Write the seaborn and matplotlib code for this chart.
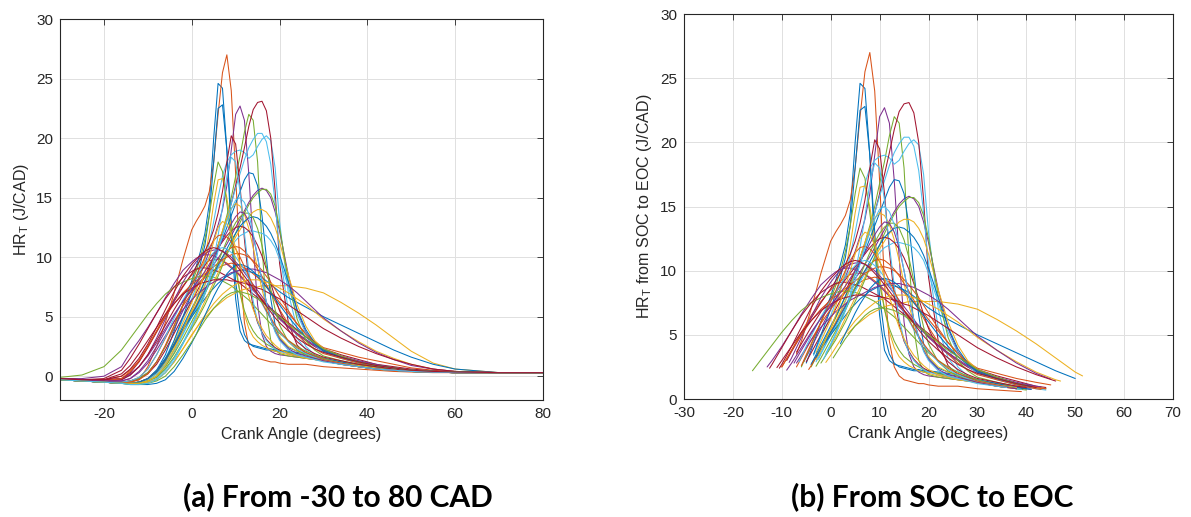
import matplotlib
matplotlib.use('Agg')
import matplotlib.pyplot as plt
import pandas as pd
import seaborn as sns

# common crank-angle grid (degrees)
crank_angle = [-30, -25, -20, -16, -14, -12, -10, -8, -6, -4, -2,
               0, 1, 2, 3, 4, 5, 6, 7, 8, 9, 10, 11, 12, 13, 14, 15, 16, 17, 18, 19, 20,
               22, 24, 26, 28, 30, 34, 38, 42, 46, 50, 55, 60, 70, 80]

# heat-release-rate curves (J/CAD), one per cycle
hr_00 = [-0.3,-0.4,-0.5,-0.6,-0.6,-0.5,-0.2,0.5,1.8,3.8,6.0,
         8.0,9.2,10.5,12.0,14.5,20.0,24.6,24.2,19.0,12.0,6.5,3.8,3.0,2.7,2.6,2.5,2.4,2.3,2.3,2.2,2.2,
         2.1,2.0,1.9,1.7,1.5,1.2,0.9,0.7,0.5,0.4,0.35,0.3,0.3,0.3]
hr_01 = [-0.2,-0.3,-0.4,-0.5,-0.5,-0.3,0.8,2.5,4.5,7.0,9.8,
         12.3,13.0,13.6,14.3,15.5,18.0,22.0,25.5,27.0,24.0,17.0,9.0,4.5,2.5,1.8,1.5,1.4,1.3,1.2,1.2,1.1,
         1.0,1.0,1.0,0.9,0.8,0.7,0.6,0.5,0.4,0.35,0.3,0.3,0.3,0.3]
hr_02 = [-0.3,-0.4,-0.5,-0.6,-0.6,-0.6,-0.5,-0.3,0.3,1.2,2.3,
         3.5,4.0,4.5,4.9,5.3,5.7,6.0,6.3,6.6,6.8,7.0,7.2,7.3,7.4,7.5,7.5,7.6,7.6,7.6,7.6,7.6,
         7.6,7.5,7.4,7.2,7.0,6.2,5.3,4.3,3.2,2.1,1.1,0.6,0.3,0.3]
hr_03 = [-0.2,-0.3,-0.4,-0.5,-0.4,-0.2,0.3,1.2,2.5,4.0,5.5,
         7.0,7.8,8.6,9.5,10.5,11.5,12.7,14.0,16.0,19.0,22.0,22.7,21.5,17.0,11.0,6.0,3.5,2.5,2.1,1.9,1.8,
         1.7,1.6,1.5,1.4,1.3,1.1,0.9,0.7,0.5,0.4,0.35,0.3,0.3,0.3]
hr_04 = [-0.3,-0.4,-0.5,-0.6,-0.6,-0.5,-0.3,0.2,1.2,2.5,4.0,
         5.5,6.3,7.1,8.0,9.0,10.0,11.0,12.2,13.5,15.0,16.8,18.5,20.5,22.0,21.5,18.0,11.0,5.5,3.0,2.2,1.9,
         1.7,1.6,1.5,1.4,1.3,1.1,0.9,0.7,0.5,0.4,0.35,0.3,0.3,0.3]
hr_05 = [-0.3,-0.4,-0.5,-0.6,-0.6,-0.5,-0.2,0.5,1.5,3.0,4.8,
         6.5,7.5,8.5,9.8,11.2,13.0,15.0,16.8,18.0,18.6,18.9,19.0,18.8,18.3,18.6,19.3,19.9,20.2,19.8,17.5,13.0,
         7.0,4.0,2.5,1.8,1.4,1.1,0.8,0.6,0.5,0.4,0.35,0.3,0.3,0.3]
hr_06 = [-0.3,-0.4,-0.5,-0.5,-0.4,-0.2,0.2,1.0,2.2,3.6,5.0,
         6.3,7.0,7.7,8.4,9.2,10.0,11.0,12.0,13.2,14.5,16.0,17.5,19.2,21.0,22.4,23.0,23.1,22.3,20.0,15.5,9.5,
         4.5,2.6,1.9,1.6,1.4,1.2,1.0,0.8,0.6,0.45,0.35,0.3,0.3,0.3]
hr_07 = [-0.3,-0.4,-0.5,-0.6,-0.6,-0.5,-0.3,0.3,1.3,3.0,5.0,
         7.0,8.2,9.5,11.0,13.5,18.0,22.5,22.8,19.0,13.0,8.0,5.0,3.5,2.8,2.5,2.4,2.3,2.2,2.2,2.1,2.1,
         2.0,1.9,1.8,1.6,1.4,1.1,0.9,0.7,0.5,0.4,0.35,0.3,0.3,0.3]
hr_08 = [-0.2,-0.3,-0.3,0.0,0.5,1.3,2.5,3.8,5.2,6.5,7.6,
         8.5,8.9,9.2,9.5,9.7,9.8,9.8,9.7,9.5,9.2,8.9,8.5,8.1,7.7,7.3,6.9,6.5,6.1,5.7,5.3,4.9,
         4.2,3.6,3.0,2.5,2.1,1.6,1.2,0.9,0.7,0.5,0.4,0.35,0.3,0.3]
hr_09 = [-0.3,-0.4,-0.5,-0.6,-0.6,-0.5,-0.3,0.2,1.2,2.8,4.5,
         6.2,7.2,8.5,10.0,12.0,14.5,16.5,16.6,15.0,12.5,9.5,7.0,5.2,4.0,3.3,2.9,2.6,2.4,2.2,2.1,2.0,
         1.8,1.7,1.6,1.5,1.3,1.0,0.8,0.6,0.5,0.4,0.35,0.3,0.3,0.3]
hr_10 = [-0.2,-0.3,-0.3,-0.2,0.2,0.8,1.7,2.8,4.0,5.2,6.3,
         7.2,7.6,8.0,8.4,8.9,9.4,9.9,10.5,11.1,11.8,12.5,13.2,13.9,14.6,15.2,15.6,15.8,15.6,15.0,13.8,12.2,
         8.5,5.5,3.7,2.7,2.1,1.6,1.2,0.9,0.7,0.5,0.4,0.35,0.3,0.3]
hr_11 = [-0.3,-0.4,-0.5,-0.5,-0.4,-0.2,0.3,1.2,2.5,4.2,6.0,
         7.8,8.8,10.0,11.5,13.5,16.0,18.0,17.2,14.5,11.5,9.0,7.0,5.5,4.5,3.8,3.3,3.0,2.7,2.5,2.3,2.2,
         2.0,1.8,1.6,1.5,1.3,1.0,0.8,0.6,0.5,0.4,0.35,0.3,0.3,0.3]
hr_12 = [-0.3,-0.4,-0.5,-0.6,-0.6,-0.6,-0.4,0.0,0.8,2.0,3.5,
         5.0,5.8,6.7,7.6,8.6,9.7,10.8,12.0,13.2,14.5,15.8,17.0,18.2,19.2,19.9,20.4,20.4,19.7,17.8,14.5,10.5,
         5.5,3.2,2.2,1.7,1.4,1.1,0.8,0.6,0.5,0.4,0.35,0.3,0.3,0.3]
hr_13 = [-0.2,-0.3,-0.3,-0.2,0.3,1.2,2.4,3.7,5.0,6.3,7.5,
         8.6,9.2,9.8,10.5,11.3,12.3,13.7,15.5,18.0,20.2,19.5,16.0,11.5,8.0,5.8,4.5,3.7,3.1,2.7,2.4,2.2,
         1.9,1.7,1.6,1.5,1.4,1.1,0.9,0.7,0.5,0.4,0.35,0.3,0.3,0.3]
hr_14 = [-0.3,-0.4,-0.5,-0.6,-0.6,-0.5,-0.3,0.3,1.3,2.7,4.2,
         5.7,6.4,7.2,8.0,8.8,9.7,10.6,11.5,12.5,13.5,14.5,15.5,16.5,17.1,17.0,16.0,13.5,10.0,6.5,4.3,3.2,
         2.4,2.1,1.9,1.7,1.5,1.2,0.9,0.7,0.5,0.4,0.35,0.3,0.3,0.3]
hr_15 = [-0.3,-0.4,-0.5,-0.5,-0.4,-0.1,0.6,1.8,3.2,4.6,5.9,
         7.0,7.5,7.9,8.3,8.6,8.9,9.1,9.3,9.4,9.5,9.4,9.3,9.1,8.9,8.6,8.3,7.9,7.5,7.1,6.7,6.2,
         5.3,4.4,3.6,2.9,2.4,2.0,1.6,1.3,1.0,0.7,0.5,0.4,0.3,0.3]
hr_16 = [-0.3,-0.4,-0.5,-0.6,-0.6,-0.5,-0.3,0.2,1.0,2.3,3.8,
         5.3,6.0,6.8,7.7,8.7,9.8,11.0,12.2,13.3,14.1,14.5,14.3,13.6,12.4,10.8,9.0,7.3,5.9,4.8,3.9,3.3,
         2.5,2.1,1.8,1.6,1.4,1.1,0.9,0.7,0.5,0.4,0.35,0.3,0.3,0.3]
hr_17 = [-0.2,-0.2,0.0,0.8,2.0,3.0,4.1,5.3,6.6,7.8,8.9,
         9.6,9.9,10.1,10.2,10.2,10.1,9.9,9.7,9.4,9.1,8.8,8.4,8.0,7.6,7.2,6.8,6.4,6.0,5.6,5.2,4.8,
         4.1,3.5,3.0,2.5,2.1,1.6,1.2,0.9,0.7,0.5,0.4,0.35,0.3,0.3]
hr_18 = [-0.1,0.1,0.8,2.2,3.2,4.2,5.2,6.1,6.9,7.5,7.9,
         8.2,8.3,8.4,8.4,8.4,8.3,8.2,8.0,7.8,7.6,7.3,7.0,6.7,6.4,6.0,5.6,5.2,4.8,4.4,4.0,3.6,
         3.0,2.5,2.1,1.8,1.5,1.1,0.8,0.6,0.5,0.4,0.35,0.3,0.3,0.3]
hr_19 = [-0.3,-0.4,-0.5,-0.6,-0.6,-0.5,-0.3,0.2,1.0,2.2,3.6,
         5.0,5.6,6.3,7.0,7.7,8.4,9.1,9.8,10.4,10.9,11.4,11.8,12.0,12.2,12.2,12.1,12.0,11.8,11.4,10.8,9.8,
         7.5,5.2,3.6,2.6,2.0,1.5,1.1,0.8,0.6,0.45,0.35,0.3,0.3,0.3]
hr_20 = [-0.2,-0.3,-0.2,0.5,1.5,2.7,4.0,5.3,6.5,7.5,8.3,
         8.8,9.0,9.1,9.1,9.0,8.9,8.8,8.6,8.4,8.2,8.0,7.8,7.5,7.2,6.9,6.6,6.3,6.0,5.7,5.4,5.1,
         4.5,3.9,3.3,2.8,2.3,1.8,1.4,1.0,0.8,0.6,0.45,0.35,0.3,0.3]
hr_21 = [-0.3,-0.4,-0.5,-0.6,-0.6,-0.5,-0.2,0.5,1.5,2.7,3.9,
         5.0,5.5,6.0,6.5,7.0,7.4,7.8,8.1,8.4,8.6,8.8,8.9,8.9,8.8,8.7,8.5,8.3,8.0,7.7,7.4,7.1,
         6.6,6.2,5.8,5.4,5.0,4.3,3.6,2.9,2.2,1.6,1.0,0.6,0.3,0.3]
hr_22 = [-0.3,-0.4,-0.5,-0.6,-0.6,-0.5,-0.2,0.4,1.4,2.6,3.9,
         5.2,5.9,6.6,7.3,8.0,8.7,9.4,10.0,10.5,10.8,10.9,10.8,10.5,10.1,9.6,9.0,8.4,7.7,7.0,6.3,5.6,
         4.4,3.5,2.8,2.3,1.9,1.5,1.1,0.8,0.6,0.45,0.35,0.3,0.3,0.3]
hr_23 = [-0.3,-0.4,-0.5,-0.6,-0.6,-0.6,-0.4,-0.1,0.6,1.6,2.8,
         4.1,4.8,5.5,6.3,7.1,7.9,8.7,9.5,10.3,11.0,11.7,12.3,12.9,13.4,13.8,14.0,14.0,13.8,13.3,12.5,11.3,
         8.5,6.0,4.2,3.0,2.3,1.7,1.2,0.9,0.7,0.5,0.4,0.35,0.3,0.3]
hr_24 = [-0.2,-0.3,-0.4,-0.3,0.1,0.8,1.8,3.2,4.8,6.4,7.9,
         9.1,9.6,10.0,10.3,10.5,10.6,10.6,10.5,10.3,10.0,9.6,9.2,8.7,8.2,7.7,7.2,6.7,6.2,5.7,5.3,4.9,
         4.2,3.6,3.1,2.6,2.2,1.7,1.3,1.0,0.7,0.5,0.4,0.35,0.3,0.3]
hr_25 = [-0.3,-0.4,-0.5,-0.6,-0.6,-0.6,-0.4,-0.1,0.6,1.6,2.8,
         4.0,4.6,5.3,6.0,6.8,7.6,8.4,9.3,10.2,11.1,12.0,12.9,13.7,14.4,15.0,15.4,15.7,15.7,15.3,14.3,12.5,
         8.0,4.8,3.0,2.2,1.7,1.3,1.0,0.8,0.6,0.45,0.35,0.3,0.3,0.3]
hr_26 = [-0.3,-0.4,-0.5,-0.6,-0.6,-0.6,-0.5,-0.2,0.5,1.5,2.8,
         4.3,5.1,6.0,7.0,8.2,9.8,11.8,14.2,16.8,18.4,18.0,15.5,12.0,8.8,6.3,4.6,3.6,3.0,2.6,2.3,2.1,
         1.9,1.7,1.6,1.5,1.3,1.0,0.8,0.6,0.5,0.4,0.35,0.3,0.3,0.3]
hr_27 = [-0.3,-0.4,-0.4,-0.3,0.1,0.8,1.8,3.0,4.3,5.6,6.8,
         7.8,8.3,8.8,9.3,9.8,10.3,10.8,11.3,11.8,12.2,12.5,12.6,12.5,12.2,11.7,11.0,10.1,9.0,7.8,6.6,5.5,
         3.9,2.9,2.3,1.9,1.6,1.3,1.0,0.8,0.6,0.45,0.35,0.3,0.3,0.3]
hr_28 = [-0.3,-0.4,-0.5,-0.6,-0.6,-0.5,-0.2,0.4,1.4,2.6,3.9,
         5.2,5.8,6.5,7.2,7.9,8.6,9.3,10.0,10.7,11.4,12.0,12.6,13.0,13.3,13.4,13.3,13.0,12.6,12.0,11.2,10.2,
         7.9,5.6,3.9,2.8,2.1,1.6,1.2,0.9,0.7,0.5,0.4,0.35,0.3,0.3]
hr_29 = [-0.2,-0.3,-0.4,-0.2,0.4,1.3,2.5,3.8,5.0,6.1,7.0,
         7.7,8.0,8.3,8.6,8.9,9.2,9.5,9.8,10.0,10.2,10.3,10.3,10.2,10.0,9.7,9.3,8.9,8.4,7.9,7.3,6.7,
         5.5,4.4,3.5,2.8,2.2,1.6,1.2,0.9,0.7,0.5,0.4,0.35,0.3,0.3]
hr_30 = [-0.3,-0.4,-0.5,-0.6,-0.6,-0.6,-0.5,-0.3,0.3,1.2,2.3,
         3.4,4.0,4.6,5.1,5.6,6.1,6.5,6.9,7.2,7.5,7.7,7.9,8.0,8.1,8.1,8.1,8.0,7.9,7.8,7.6,7.4,
         7.0,6.5,6.0,5.4,4.8,3.8,2.9,2.1,1.5,1.0,0.6,0.4,0.3,0.3]
hr_31 = [-0.2,-0.3,-0.4,-0.4,-0.2,0.3,1.1,2.2,3.4,4.6,5.6,
         6.4,6.8,7.1,7.4,7.7,7.9,8.1,8.3,8.5,8.7,8.8,8.9,9.0,9.0,9.0,8.9,8.8,8.7,8.5,8.3,8.1,
         7.6,7.0,6.3,5.6,4.9,3.8,2.8,2.0,1.4,0.9,0.6,0.4,0.3,0.3]
hr_32 = [-0.3,-0.4,-0.5,-0.6,-0.6,-0.6,-0.4,0.0,0.8,1.9,3.2,
         4.6,5.3,6.1,6.9,7.8,8.7,9.6,10.5,11.4,12.2,12.9,13.4,13.7,13.7,13.3,12.4,11.0,9.2,7.3,5.6,4.3,
         2.9,2.2,1.8,1.5,1.3,1.0,0.8,0.6,0.5,0.4,0.35,0.3,0.3,0.3]
hr_33 = [-0.3,-0.4,-0.5,-0.5,-0.4,-0.1,0.6,1.8,3.3,4.9,6.4,
         7.7,8.3,8.9,9.5,10.0,10.4,10.7,10.8,10.7,10.4,10.0,9.5,8.9,8.2,7.5,6.8,6.1,5.4,4.8,4.2,3.7,
         2.9,2.3,1.9,1.6,1.4,1.1,0.8,0.6,0.5,0.4,0.35,0.3,0.3,0.3]
hr_34 = [-0.2,-0.3,-0.3,0.2,0.9,1.9,3.0,4.1,5.2,6.1,6.9,
         7.4,7.6,7.8,7.9,8.0,8.1,8.1,8.1,8.1,8.0,8.0,7.9,7.8,7.7,7.6,7.4,7.3,7.1,6.9,6.7,6.5,
         6.0,5.5,5.0,4.5,4.0,3.2,2.5,1.9,1.4,1.0,0.6,0.4,0.3,0.3]
hr_35 = [-0.3,-0.4,-0.5,-0.6,-0.7,-0.7,-0.7,-0.6,-0.3,0.4,1.5,
         2.8,3.5,4.3,5.1,5.9,6.7,7.4,8.0,8.6,9.0,9.3,9.4,9.3,9.1,8.8,8.4,8.0,7.5,7.0,6.5,6.0,
         5.0,4.1,3.3,2.7,2.2,1.6,1.2,0.9,0.7,0.5,0.4,0.35,0.3,0.3]
hr_36 = [-0.3,-0.4,-0.5,-0.6,-0.5,-0.3,0.2,1.2,2.6,4.3,6.0,
         7.6,8.4,9.2,10.0,10.8,11.4,11.8,11.9,11.7,11.3,10.7,10.0,9.2,8.4,7.6,6.9,6.2,5.5,4.9,4.3,3.8,
         3.0,2.4,2.0,1.7,1.4,1.1,0.8,0.6,0.5,0.4,0.35,0.3,0.3,0.3]
hr_37 = [-0.3,-0.4,-0.5,-0.6,-0.6,-0.6,-0.4,0.0,0.9,2.2,3.8,
         5.5,6.5,7.6,8.8,10.0,11.3,12.5,13.0,12.8,12.0,10.8,9.4,8.0,6.7,5.6,4.7,4.0,3.4,3.0,2.6,2.3,
         1.9,1.7,1.5,1.4,1.3,1.0,0.8,0.6,0.5,0.4,0.35,0.3,0.3,0.3]
hr_38 = [-0.2,-0.3,-0.4,-0.4,-0.2,0.4,1.3,2.5,3.8,5.1,6.3,
         7.3,7.8,8.3,8.8,9.4,10.0,10.7,11.4,12.1,12.8,13.4,13.8,13.7,13.0,11.8,10.0,8.0,6.2,4.8,3.8,3.1,
         2.3,1.9,1.7,1.5,1.3,1.0,0.8,0.6,0.5,0.4,0.35,0.3,0.3,0.3]
hr_39 = [-0.3,-0.4,-0.5,-0.6,-0.7,-0.7,-0.6,-0.4,0.0,0.8,1.8,
         2.9,3.5,4.1,4.7,5.2,5.7,6.1,6.5,6.8,7.0,7.1,7.1,7.0,6.9,6.7,6.5,6.2,5.9,5.6,5.3,5.0,
         4.4,3.8,3.3,2.8,2.3,1.7,1.2,0.9,0.7,0.5,0.4,0.35,0.3,0.3]
hr_40 = [-0.3,-0.4,-0.5,-0.6,-0.7,-0.7,-0.6,-0.3,0.3,1.3,2.7,
         4.2,5.0,5.9,6.9,8.0,9.2,10.5,11.8,13.0,14.0,14.8,15.0,14.6,13.6,12.0,10.0,8.0,6.2,4.8,3.7,3.0,
         2.2,1.8,1.6,1.4,1.2,1.0,0.8,0.6,0.5,0.4,0.35,0.3,0.3,0.3]
hr_41 = [-0.2,-0.3,-0.3,0.0,0.6,1.5,2.7,4.1,5.6,7.1,8.4,
         9.4,9.8,10.2,10.5,10.7,10.8,10.7,10.5,10.2,9.8,9.4,8.9,8.4,7.9,7.4,6.9,6.4,5.9,5.4,4.9,4.5,
         3.8,3.2,2.7,2.3,2.0,1.6,1.2,0.9,0.7,0.5,0.4,0.35,0.3,0.3]

curves = [hr_00, hr_01, hr_02, hr_03, hr_04, hr_05, hr_06, hr_07, hr_08, hr_09,
          hr_10, hr_11, hr_12, hr_13, hr_14, hr_15, hr_16, hr_17, hr_18, hr_19,
          hr_20, hr_21, hr_22, hr_23, hr_24, hr_25, hr_26, hr_27, hr_28, hr_29,
          hr_30, hr_31, hr_32, hr_33, hr_34, hr_35, hr_36, hr_37, hr_38, hr_39,
          hr_40, hr_41]

# start of combustion (angle, HR) per cycle
soc_angle = [-5, -7, 3.5, -5.5, -4, -3.5, -5,
             -3.5, -10, -3, -9, -6, -2.5, -9,
             -4, -7, -3, -13, -16, -3, -12.5,
             -4, -4.5, -1, -8.5, -2, -1, -7,
             -3, -10, -1, -7, -3, -6.5, -11,
             2, -6, -2.5, -7.5, 0.5, -1.5, -10.5]
soc_hr = [2.8, 3.5, 5.1, 2.9, 2.5, 3.4, 2.9,
          3.5, 2.5, 3.6, 2.25, 2.5, 3.1, 3.0,
          2.7, 2.5, 3.05, 2.5, 2.2, 2.9, 2.4,
          2.7, 2.3, 3.45, 2.85, 2.8, 3.55, 3.65,
          3.25, 2.5, 2.85, 2.8, 2.55, 2.9, 2.45,
          4.3, 2.6, 3.4, 2.8, 3.2, 3.1, 2.4]
# end of combustion (angle, HR) per cycle
eoc_angle = [40, 39, 51.5, 41, 36, 38, 41,
             40, 43, 37, 44, 35, 39, 40,
             41, 45, 38, 43, 40, 44, 44,
             50, 43, 44, 43, 37, 36, 40,
             41, 44, 47, 45, 36, 39, 46,
             41, 38, 37, 38, 40, 36, 42]
eoc_hr = [0.8, 0.58, 1.8, 0.75, 1.0, 0.8, 0.85,
          0.8, 0.85, 0.85, 0.8, 0.95, 0.75, 0.8,
          0.75, 1.1, 0.9, 0.85, 0.7, 0.7, 0.9,
          1.6, 0.75, 0.8, 0.95, 1.05, 0.9, 0.9,
          0.95, 0.8, 1.4, 1.55, 0.9, 0.75, 1.4,
          1.0, 0.8, 0.85, 0.8, 1.05, 0.9, 0.9]

matlab_colors = ['#0072BD', '#D95319', '#EDB120', '#7E2F8E', '#77AC30', '#4DBEEE', '#A2142F']

rows_a, rows_b = [], []
for k, vals in enumerate(curves):
    assert len(vals) == len(crank_angle), (k, len(vals))
    name = f'c{k:02d}'
    for a, v in zip(crank_angle, vals):
        rows_a.append((name, a, v))
    rows_b.append((name, soc_angle[k], soc_hr[k]))
    for a, v in zip(crank_angle, vals):
        if soc_angle[k] < a < eoc_angle[k]:
            rows_b.append((name, a, v))
    rows_b.append((name, eoc_angle[k], eoc_hr[k]))
df_a = pd.DataFrame(rows_a, columns=['cycle', 'angle', 'hr'])
df_b = pd.DataFrame(rows_b, columns=['cycle', 'angle', 'hr'])

order = [f'c{k:02d}' for k in range(len(curves))]
palette = {name: matlab_colors[k % 7] for k, name in enumerate(order)}

sns.set_theme(style='white')
plt.rcParams['font.family'] = ['Liberation Sans', 'DejaVu Sans']
plt.rcParams['mathtext.fontset'] = 'custom'
plt.rcParams['mathtext.rm'] = 'Liberation Sans'
plt.rcParams['axes.unicode_minus'] = False

fig = plt.figure(figsize=(11.91, 5.17), dpi=100)
ax1 = fig.add_axes([0.0504, 0.2263, 0.4055, 0.7367])
ax2 = fig.add_axes([0.5743, 0.2282, 0.4106, 0.7447])

sns.lineplot(data=df_a, x='angle', y='hr', hue='cycle', hue_order=order, palette=palette,
             legend=False, linewidth=0.75, estimator=None, sort=False, ax=ax1)
sns.lineplot(data=df_b, x='angle', y='hr', hue='cycle', hue_order=order, palette=palette,
             legend=False, linewidth=0.75, estimator=None, sort=False, ax=ax2)

def style(ax):
    for s in ax.spines.values():
        s.set_visible(True)
        s.set_color('#262626')
        s.set_linewidth(0.8)
    ax.tick_params(direction='in', top=True, right=True, length=4, width=0.6,
                   colors='#262626', labelsize=11, pad=5)
    ax.grid(True, color='#e0e0e0', linewidth=0.7)
    ax.set_axisbelow(True)

ax1.set_xlim(-30, 80)
ax1.set_ylim(-2, 30)
ax1.set_xticks([-20, 0, 20, 40, 60, 80])
ax1.set_yticks([0, 5, 10, 15, 20, 25, 30])
ax1.set_xlabel('Crank Angle (degrees)', fontsize=11.5, color='#262626')
ax1.set_ylabel('HR$_\\mathrm{T}$ (J/CAD)', fontsize=11.5, color='#262626')
style(ax1)

ax2.set_xlim(-30, 70)
ax2.set_ylim(0, 30)
ax2.set_xticks(list(range(-30, 71, 10)))
ax2.set_yticks([0, 5, 10, 15, 20, 25, 30])
ax2.set_xlabel('Crank Angle (degrees)', fontsize=11.5, color='#262626')
ax2.set_ylabel('HR$_\\mathrm{T}$ from SOC to EOC (J/CAD)', fontsize=11.5, color='#262626')
style(ax2)

fig.text(0.284, 0.04, '(a) From -30 to 80 CAD', ha='center', va='center',
         fontsize=21.5, fontweight='bold', family=['Lato', 'DejaVu Sans'], color='black')
fig.text(0.783, 0.04, '(b) From SOC to EOC', ha='center', va='center',
         fontsize=21.5, fontweight='bold', family=['Lato', 'DejaVu Sans'], color='black')

fig.savefig('out.png', dpi=100, facecolor='white')
